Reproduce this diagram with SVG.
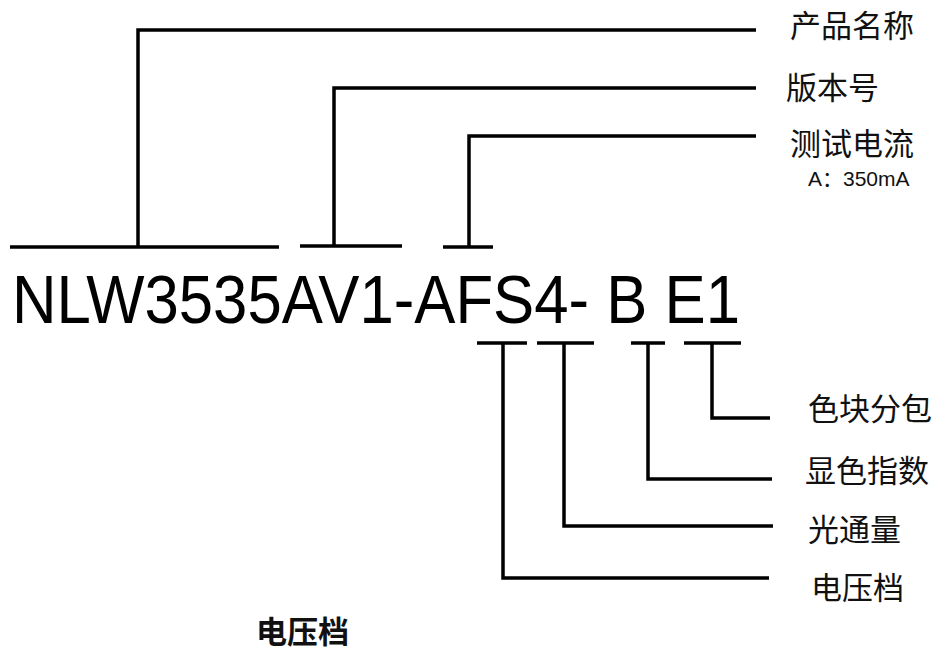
<svg xmlns="http://www.w3.org/2000/svg" width="936" height="651" viewBox="0 0 936 651">
<style>
.ln{fill:none;stroke:#000;stroke-width:3.5;stroke-linecap:butt;stroke-linejoin:miter}
.lb{font-family:"Noto Sans CJK SC","Liberation Sans",sans-serif;font-size:31px;fill:#111}
.code{font-family:"Liberation Sans","DejaVu Sans",sans-serif;font-size:68px;fill:#000}
.sub{font-family:"Liberation Sans","Noto Sans CJK SC",sans-serif;font-size:21px;fill:#111}
</style>
<rect width="936" height="651" fill="#fff"/>
<g id="code"><text class="code" x="12" y="323" textLength="728" lengthAdjust="spacingAndGlyphs">NLW3535AV1-AFS4- B E1</text></g>
<g id="connectors">
<path class="ln" d="M10,247 H279 M138,247 V30 H756"/>
<path class="ln" d="M300,246 H402 M334,246 V88 H756"/>
<path class="ln" d="M443,247 H493 M469,247 V136 H756"/>
<path class="ln" d="M477,343 H527 M503,343 V578 H769"/>
<path class="ln" d="M537,343 H594 M564,343 V526 H773"/>
<path class="ln" d="M631,343 H665 M648,343 V479 H772"/>
<path class="ln" d="M684,343 H741 M712,343 V418 H770"/>
</g>
<g id="n-name"><text class="lb" x="790" y="37">产品名称</text></g>
<g id="n-version"><text class="lb" x="786" y="99">版本号</text></g>
<g id="n-current"><text class="lb" x="790" y="155">测试电流</text><text class="sub" x="808" y="186">A：350mA</text></g>
<g id="n-bin"><text class="lb" x="808" y="420">色块分包</text></g>
<g id="n-cri"><text class="lb" x="805" y="482">显色指数</text></g>
<g id="n-flux"><text class="lb" x="808" y="541">光通量</text></g>
<g id="n-volt"><text class="lb" x="811" y="599">电压档</text></g>
<g id="n-title"><text class="lb" x="256" y="643" font-size="29" font-weight="bold">电压档</text></g>
</svg>
